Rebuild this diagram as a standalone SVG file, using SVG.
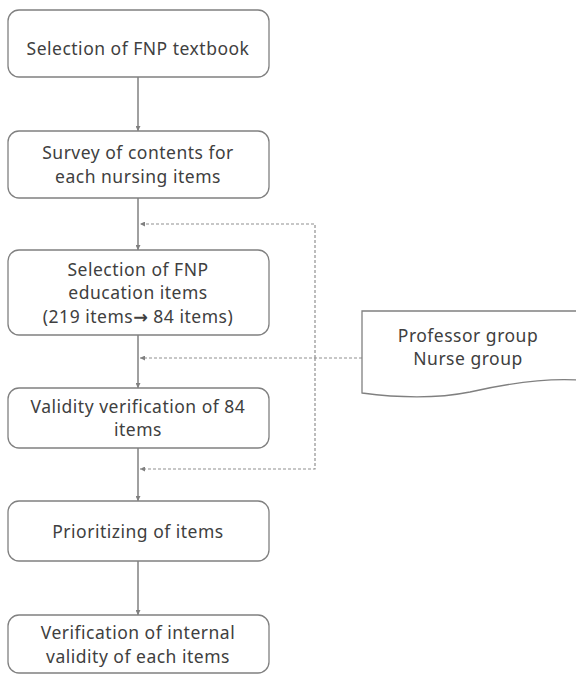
<svg xmlns="http://www.w3.org/2000/svg" width="576" height="675" viewBox="0 0 576 675">
<defs>
<marker id="ah" viewBox="0 0 10 10" refX="10" refY="5" markerWidth="5" markerHeight="5" orient="auto" markerUnits="userSpaceOnUse">
<path d="M0,0 L10,5 L0,10 z" fill="#808080"/>
</marker>
</defs>
<style>
.box{fill:#fff;stroke:#808080;stroke-width:1.3}
.t{font-family:"Noto Sans","Open Sans",sans-serif;font-size:17.5px;letter-spacing:0.5px;fill:#404040;text-anchor:middle}
.ar{font-family:"DejaVu Sans",sans-serif;font-weight:bold}
.ln{stroke:#808080;stroke-width:1.5;fill:none}
.dl{stroke:#909090;stroke-width:1.2;fill:none;stroke-dasharray:3,2}
</style>
<rect width="576" height="675" fill="#fff"/>
<g id="connectors">
<line class="ln" x1="138" y1="77" x2="138" y2="131" marker-end="url(#ah)"/>
<line class="ln" x1="138" y1="198" x2="138" y2="250" marker-end="url(#ah)"/>
<line class="ln" x1="138" y1="335" x2="138" y2="388" marker-end="url(#ah)"/>
<line class="ln" x1="138" y1="448" x2="138" y2="501" marker-end="url(#ah)"/>
<line class="ln" x1="138" y1="561" x2="138" y2="615" marker-end="url(#ah)"/>
<polyline class="dl" points="315,358 315,224 140,224" marker-end="url(#ah)"/>
<polyline class="dl" points="315,358 315,469 140,469" marker-end="url(#ah)"/>
<line class="dl" x1="362" y1="358" x2="140" y2="358" marker-end="url(#ah)"/>
</g>
<g id="n1"><rect class="box" x="8" y="10" width="261" height="67" rx="11"/><text class="t" x="138" y="55">Selection of FNP textbook</text></g>
<g id="n2"><rect class="box" x="8" y="131" width="261" height="67" rx="11"/><text class="t" x="138" y="159">Survey of contents for</text><text class="t" x="138" y="183">each nursing items</text></g>
<g id="n3"><rect class="box" x="8" y="250" width="261" height="85" rx="11"/><text class="t" x="138" y="276">Selection of FNP</text><text class="t" x="138" y="299">education items</text><text class="t" x="138" y="323">(219 items<tspan class="ar">→</tspan> 84 items)</text></g>
<g id="n4"><rect class="box" x="8" y="388" width="261" height="60" rx="11"/><text class="t" x="138" y="413">Validity verification of 84</text><text class="t" x="138" y="436">items</text></g>
<g id="n5"><rect class="box" x="8" y="501" width="261" height="60" rx="11"/><text class="t" x="138" y="538">Prioritizing of items</text></g>
<g id="n6"><rect class="box" x="8" y="615" width="261" height="58" rx="11"/><text class="t" x="138" y="639">Verification of internal</text><text class="t" x="138" y="663">validity of each items</text></g>
<g id="doc"><path class="box" d="M362,311 L577,311 L577,380 C540,378 505,384 470,392 C440,398 400,398 362,393 Z"/><text class="t" x="468" y="342">Professor group</text><text class="t" x="468" y="365">Nurse group</text></g>
</svg>
